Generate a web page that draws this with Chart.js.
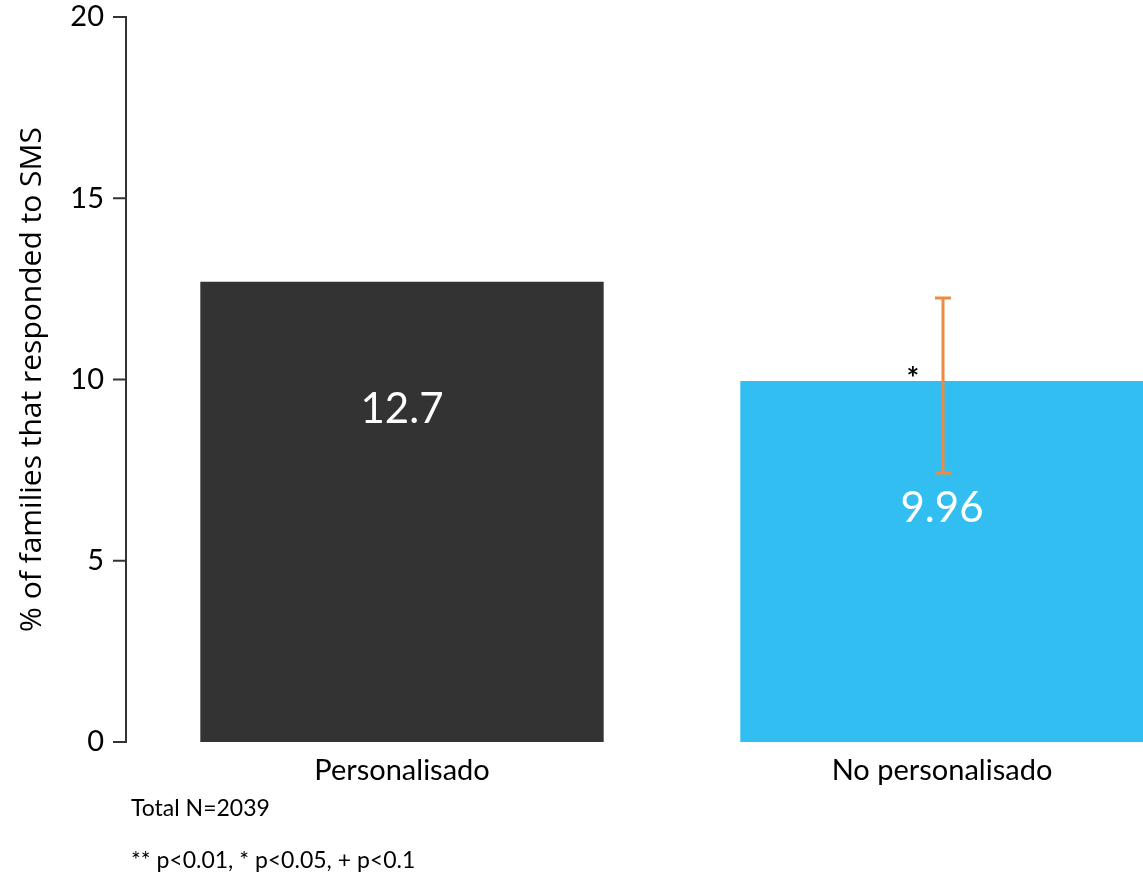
<!DOCTYPE html>
<html>
<head>
<meta charset="utf-8">
<script src="https://cdn.jsdelivr.net/npm/chart.js@4"></script>
<style>
  html, body { margin: 0; padding: 0; background: #fff; overflow: hidden; }
  #wrap { position: relative; width: 1143px; height: 877px; overflow: hidden; }
  #wrap canvas { position: absolute; left: 0; top: 0; }
  .note { position: absolute; left: 131px; font-family: Lato, sans-serif; font-size: 23px; color: #000; white-space: nowrap; }
</style>
</head>
<body>
<div id="wrap">
  <canvas id="chart" width="1230" height="877" style="width:1230px;height:877px"></canvas>
  <div class="note" style="top:793px">Total N=2039</div>
  <div class="note" style="top:845px">** p&lt;0.01, * p&lt;0.05, + p&lt;0.1</div>
</div>
<script>
const categories = ["Personalisado", "No personalisado"];
const values = [12.7, 9.96];
const errLow = [null, 7.42];
const errHigh = [null, 12.25];
const stars = ["", "*"];
const yTicks = [0, 5, 10, 15, 20];

const barOverlay = {
  id: "barOverlay",
  afterDatasetsDraw(chart) {
    const ctx = chart.ctx;
    const y = chart.scales.y;
    const area = chart.chartArea;
    const meta = chart.getDatasetMeta(0);

    // y axis line and tick marks, drawn a little left of the plot area
    const ax = area.left - 6;
    ctx.save();
    ctx.strokeStyle = "#333";
    ctx.lineWidth = 2;
    ctx.beginPath();
    ctx.moveTo(ax, y.getPixelForValue(20));
    ctx.lineTo(ax, y.getPixelForValue(0));
    yTicks.forEach(t => {
      const py = y.getPixelForValue(t);
      ctx.moveTo(ax - 13, py);
      ctx.lineTo(ax + 1, py);
    });
    ctx.stroke();

    meta.data.forEach((bar, i) => {
      // value label inside the bar
      ctx.fillStyle = "#fff";
      ctx.font = "42px Lato, sans-serif";
      ctx.textAlign = "center";
      ctx.textBaseline = "middle";
      ctx.fillText(String(values[i]), bar.x, bar.y + 128);

      if (errLow[i] != null) {
        const ex = bar.x + 1;
        const yLo = y.getPixelForValue(errLow[i]);
        const yHi = y.getPixelForValue(errHigh[i]);
        ctx.strokeStyle = "#ED8A45";
        ctx.lineWidth = 3;
        ctx.beginPath();
        ctx.moveTo(ex, yHi);
        ctx.lineTo(ex, yLo);
        ctx.moveTo(ex - 8, yHi);
        ctx.lineTo(ex + 8, yHi);
        ctx.moveTo(ex - 8, yLo);
        ctx.lineTo(ex + 8, yLo);
        ctx.stroke();
      }
      if (stars[i]) {
        ctx.fillStyle = "#000";
        ctx.font = "bold 30px Lato, sans-serif";
        ctx.textBaseline = "alphabetic";
        ctx.fillText(stars[i], bar.x - 29, bar.y + 8);
      }
    });
    ctx.restore();
  }
};

new Chart(document.getElementById("chart"), {
  type: "bar",
  data: {
    labels: categories,
    datasets: [{
      data: values,
      backgroundColor: ["#333333", "#33BEF1"],
      barPercentage: 0.747,
      categoryPercentage: 1.0
    }]
  },
  options: {
    responsive: false,
    animation: false,
    layout: { padding: { top: 17, left: 0, right: 18, bottom: 0 } },
    plugins: { legend: { display: false }, tooltip: { enabled: false } },
    scales: {
      x: {
        grid: { display: false, drawTicks: false },
        border: { display: false },
        ticks: {
          color: "#000",
          font: { family: "Lato, sans-serif", size: 29 },
          padding: 11
        },
        afterFit(scale) {
          scale.height = 135;
          scale.paddingLeft = 0;
          scale.paddingRight = 0;
        }
      },
      y: {
        min: 0,
        max: 20,
        grid: { display: false, drawTicks: false },
        border: { display: false },
        afterBuildTicks(scale) { scale.ticks = yTicks.map(v => ({ value: v })); },
        ticks: {
          color: "#000",
          font: { family: "Lato, sans-serif", size: 29 },
          padding: 28
        },
        title: {
          display: true,
          text: "% of families that responded to SMS",
          color: "#000",
          font: { family: "'Open Sans', sans-serif", size: 30 },
          padding: { top: 14, bottom: 0 }
        },
        afterFit(scale) {
          scale.width = 132;
          scale.paddingTop = 0;
          scale.paddingBottom = 0;
        }
      }
    }
  },
  plugins: [barOverlay]
});
</script>
</body>
</html>
